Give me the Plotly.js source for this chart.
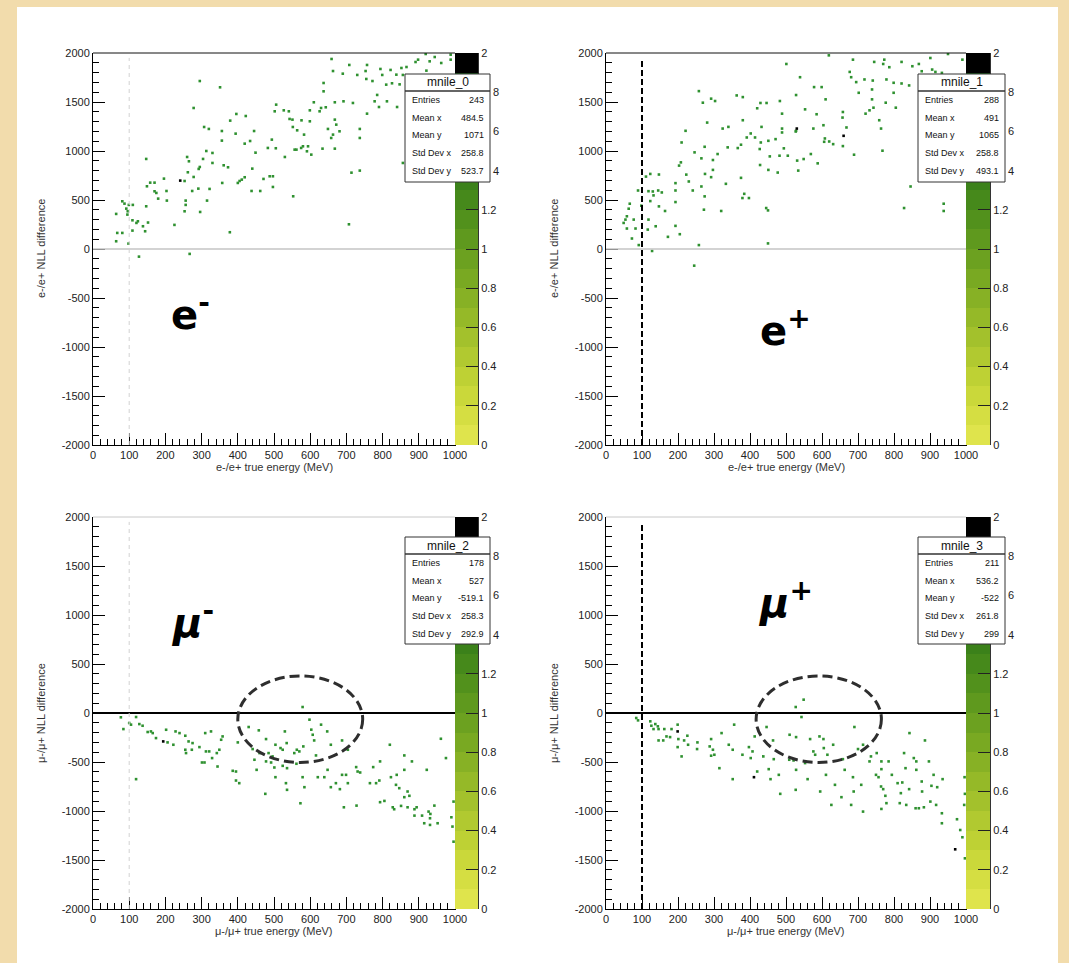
<!DOCTYPE html>
<html><head><meta charset="utf-8">
<script src="https://cdn.plot.ly/plotly-3.0.1.min.js"></script>
<style>html,body{margin:0;padding:0;background:#f2dcac;}#chart{width:1069px;height:963px;}</style>
</head><body><div id="chart"></div>
<script>
// ---------------- data ----------------
const eMinusX = [659,708,757,794,690,663,730,753,755,772,799,822,838,852,866,856,810,826,847,891,898,919,930,944,962,988,988,921,637,637,785,778,812,790,840,867,757,856,295,351,278,379,396,422,307,320,356,394,445,494,356,434,419,483,505,449,530,506,527,541,543,551,502,552,576,599,610,630,643,626,668,692,718,668,672,649,663,681,737,737,658,599,564,583,594,580,562,591,603,575,634,668,313,330,260,265,304,295,292,330,361,373,278,262,253,274,291,322,357,400,405,411,419,440,471,488,497,462,497,438,553,557,714,737,147,149,158,170,170,175,180,203,204,196,225,147,256,256,253,296,315,378,707,81,87,92,95,99,110,96,109,109,120,124,138,144,152,64,67,81,98,64,127,267];
const eMinusY = [1939,1878,1878,1837,1789,1816,1776,1816,1735,1714,1776,1827,1779,1847,1857,1776,1677,1691,1680,1908,1932,1990,1915,1959,1898,1983,1932,1820,1694,1609,1572,1507,1507,1449,1449,1381,1381,878,1714,1650,1439,1310,1378,1357,1245,1225,1204,1177,1204,1116,1106,1102,1075,1031,1028,983,939,1473,1415,1405,1327,1320,1405,1245,1313,1415,1497,1439,1446,1405,1497,1507,1490,1320,1269,1225,1167,1201,1225,1133,1133,1303,1211,1167,1048,1048,1014,997,963,1031,1024,1024,1000,980,939,895,919,837,817,878,854,834,735,783,694,592,616,613,674,674,694,708,732,820,715,742,742,592,633,592,538,1014,779,800,919,640,677,677,589,572,514,592,494,718,246,436,494,450,385,378,494,171,252,487,463,412,351,450,450,385,293,188,266,283,232,181,270,358,164,164,55,79,-78,-50];
const eMinusX2 = [241];
const eMinusY2 = [698];

const ePlusX = [619,686,745,773,770,787,821,851,869,901,950,990,906,915,877,501,677,681,718,695,741,779,799,821,842,702,739,799,777,739,743,732,721,759,764,805,539,528,578,599,610,429,446,483,420,489,553,585,658,657,668,604,576,528,489,489,432,402,391,414,375,366,451,471,430,427,455,482,505,494,527,608,606,620,631,658,689,768,531,549,569,588,534,428,451,477,258,269,292,303,281,221,210,246,265,274,275,297,310,338,324,340,380,375,363,380,297,292,333,265,274,272,320,384,379,397,445,450,450,208,203,223,230,241,193,193,193,193,205,172,164,145,147,147,123,111,118,130,155,132,123,118,116,138,98,89,66,63,54,49,58,77,82,72,58,91,128,258,828,846,938,938,933,245];
const ePlusY = [1976,1932,1909,1932,1888,1855,1909,1865,1888,1949,1990,1932,1831,1807,1814,1888,1807,1753,1730,1703,1719,1730,1696,1689,1669,1594,1628,1594,1493,1527,1442,1415,1381,1314,1229,1442,1753,1571,1652,1652,1527,1490,1490,1510,1436,1381,1425,1375,1398,1341,1240,1263,1229,1206,1229,1189,1246,1179,1138,1138,1064,1030,1104,1121,1087,1020,945,952,952,1027,1199,1128,1094,1097,1070,1050,962,1003,902,918,969,874,800,857,807,780,1611,1493,1534,1510,1290,1206,1087,986,925,1043,766,908,969,1037,1229,1246,1314,726,1567,1550,807,733,665,638,537,401,388,563,520,520,418,394,57,884,851,759,689,597,672,597,479,236,151,124,388,597,435,760,766,739,590,587,577,547,489,300,198,232,442,597,462,411,300,266,209,300,209,107,334,40,-20,40,418,638,462,388,1797,-170];
const ePlusX2 = [530,660];
const ePlusY2 = [1229,1155];

const muMinusX = [77,84,119,100,105,128,137,151,160,165,174,202,206,222,228,239,255,264,275,255,273,257,294,310,326,312,321,329,342,349,344,354,358,301,308,119,386,395,395,404,400,430,458,441,446,452,460,478,478,485,492,496,501,504,504,518,524,530,535,524,536,533,536,476,556,563,570,581,562,579,598,603,607,611,630,647,657,688,616,579,584,573,621,639,648,657,671,682,688,704,699,704,727,731,738,693,728,765,782,791,774,793,820,823,839,837,846,860,860,860,869,874,881,793,805,828,832,851,869,888,894,888,909,922,927,932,943,915,931,931,952,961,975,993,990,996,996];
const muMinusY = [-44,-164,-41,-102,-119,-113,-130,-194,-188,-205,-256,-171,-300,-324,-188,-205,-232,-290,-307,-375,-375,-409,-348,-205,-188,-392,-392,-460,-409,-375,-546,-273,-239,-505,-505,-675,-590,-597,-689,-716,-300,-143,-177,-368,-477,-580,-409,-266,-494,-409,-505,-443,-556,-655,-324,-358,-375,-188,-307,-539,-563,-716,-784,-825,-409,-375,-392,-341,-518,61,-68,-170,-222,-280,-119,-188,-324,-280,-433,-655,-757,-921,-655,-655,-580,-757,-716,-777,-631,-375,-631,-716,-552,-597,-607,-962,-945,-716,-716,-689,-552,-494,-324,-655,-631,-733,-767,-433,-580,-859,-801,-845,-494,-910,-897,-962,-982,-948,-962,-982,-962,-1047,-1047,-580,-1006,-1030,-945,-1125,-1074,-1142,-1125,-263,-460,-1159,-1064,-904,-1313];
const muMinusX2 = [194];
const muMinusY2 = [-290];

const muPlusX = [84,89,123,126,132,137,144,146,162,168,178,182,146,159,199,201,199,210,217,226,228,253,254,288,292,292,297,301,315,321,341,352,356,352,379,397,402,407,413,420,437,446,452,457,464,466,480,484,510,509,521,527,528,528,527,543,549,553,560,567,576,581,593,595,604,605,611,615,631,626,636,654,658,663,681,686,690,688,700,709,714,714,732,736,752,750,757,765,765,764,765,770,776,779,785,794,810,816,819,823,828,832,834,842,843,855,862,862,860,869,877,878,883,886,897,901,904,910,917,920,933,933,935,975,984,990,995,997,996,997];
const muPlusY = [-51,-75,-85,-130,-164,-113,-136,-164,-164,-239,-246,-164,-280,-280,-119,-266,-348,-443,-280,-232,-324,-368,-300,-341,-266,-436,-375,-426,-563,-205,-324,-375,-119,-675,-426,-348,-460,-392,-239,-597,-443,-143,-573,-675,-280,-471,-631,-825,-222,-477,-484,61,-246,-580,-784,-41,136,-511,-675,-266,-392,-426,-239,-801,-266,-358,-631,-426,-324,-938,-733,-859,-471,-580,-938,-655,-143,-801,-368,-733,-324,-1006,-494,-443,-409,-631,-655,-494,-573,-750,-979,-777,-845,-920,-494,-631,-716,-920,-818,-709,-409,-563,-938,-777,-205,-460,-494,-580,-972,-972,-699,-801,-962,-280,-494,-904,-743,-631,-938,-757,-1023,-1125,-675,-1084,-1194,-1268,-938,-825,-655,-1483];
const muPlusX2 = [199,411,970];
const muPlusY2 = [-188,-655,-1391];

const histNames = ['mnile_0','mnile_1','mnile_2','mnile_3'];
const statLabels = ['Entries','Mean x','Mean y','Std Dev x','Std Dev y'];
const statsE0 = ['243','484.5','1071','258.8','523.7'];
const statsE1 = ['288','491','1065','258.8','493.1'];
const statsM2 = ['178','527','-519.1','258.3','292.9'];
const statsM3 = ['211','536.2','-522','261.8','299'];

const xTitles = ['e-/e+ true energy (MeV)','e-/e+ true energy (MeV)','\u03bc-/\u03bc+ true energy (MeV)','\u03bc-/\u03bc+ true energy (MeV)'];
const yTitles = ['e-/e+ NLL difference','e-/e+ NLL difference','\u03bc-/\u03bc+ NLL difference','\u03bc-/\u03bc+ NLL difference'];
const particleLabels = ['<b>e<sup>-</sup></b>','<b>e<sup>+</sup></b>','<b><i>\u03bc</i><sup>-</sup></b>','<b><i>\u03bc</i><sup>+</sup></b>'];

const yTickVals = [-2000,-1500,-1000,-500,0,500,1000,1500,2000];
const yTickText = ['-2000','-1500','-1000','-500','0','500','1000','1500','2000'];
const zTickVals = [0,0.2,0.4,0.6,0.8,1,1.2,2];
const zTickText = ['0','0.2','0.4','0.6','0.8','1','1.2','2'];
const zCutTickVals = [1.4,1.6,1.8];      // labels partly hidden by the stats box
const zCutTickText = ['4','6','8'];
const energyCut = 100;
const ellipseX = [[400,745],[417,765]];
const ellipseY = [-505,378];

const paletteColors = ['#dfe44c','#d5de42','#cad83a','#bed134','#b1c930','#a3c12c','#95b928','#87b125','#79a922','#6ca120','#5f991e','#52911c','#46891b','#3b811a','#317918','#287116','#206814','#185f12','#115510','#000000'];
const paletteLevels = [0.05,0.15,0.25,0.35,0.45,0.55,0.65,0.75,0.85,0.95,1.05,1.15,1.25,1.35,1.45,1.55,1.65,1.75,1.85,1.95];

// ---------------- layout helpers ----------------
const W = 1069, H = 963;
const fx = p => p / W, fy = p => 1 - p / H;
const FONT = 'Liberation Sans, Arial, sans-serif';

const panels = [
  {xs:eMinusX, ys:eMinusY, xs2:eMinusX2, ys2:eMinusY2, stats:statsE0, px:[93,455], py:[53,445], cb:[455,478], box:[405,490,74,182], lab:[190,312], col:0, row:0, ell:null},
  {xs:ePlusX, ys:ePlusY, xs2:ePlusX2, ys2:ePlusY2, stats:statsE1, px:[606,966], py:[53,445], cb:[966,990], box:[918,1005,74,182], lab:[785,328], col:1, row:0, ell:null},
  {xs:muMinusX, ys:muMinusY, xs2:muMinusX2, ys2:muMinusY2, stats:statsM2, px:[93,455], py:[517,909], cb:[455,478], box:[405,490,537,644], lab:[192,620], col:0, row:1, ell:0},
  {xs:muPlusX, ys:muPlusY, xs2:muPlusX2, ys2:muPlusY2, stats:statsM3, px:[606,966], py:[517,909], cb:[966,990], box:[918,1005,537,644], lab:[785,600], col:1, row:1, ell:1}
];

const stepScale = [];
paletteColors.forEach((c, i) => { stepScale.push([i / 20, c]); stepScale.push([(i + 1) / 20, c]); });

const traces = [];
const layout = {
  width: W, height: H, margin: {l:0, r:0, t:0, b:0},
  paper_bgcolor: '#f2dcac', plot_bgcolor: '#ffffff', showlegend: false,
  font: {family: FONT, size: 11, color: '#222'},
  shapes: [
    {type:'rect', xref:'paper', yref:'paper', x0:fx(17), x1:fx(1058), y0:0, y1:fy(7), fillcolor:'#ffffff', line:{width:0}, layer:'below'}
  ],
  annotations: []
};

panels.forEach((p, i) => {
  const n = i + 1, m = i + 5;
  const xa = 'x' + (n === 1 ? '' : n), ya = 'y' + (n === 1 ? '' : n);
  const xk = 'xaxis' + (n === 1 ? '' : n), yk = 'yaxis' + (n === 1 ? '' : n);
  const xs = p.xs.concat(p.xs2), ys = p.ys.concat(p.ys2);
  const counts = p.xs.map(() => 1).concat(p.xs2.map(() => 2));
  traces.push({
    type:'scatter', mode:'markers', x: xs, y: ys, xaxis: xa, yaxis: ya, hoverinfo:'skip',
    marker:{symbol:'square', size:2.6, color: counts, cmin:0, cmax:2,
      colorscale:[[0,'#7fbf5f'],[0.5,'#2f9130'],[1,'#000000']], showscale:false, line:{width:0}}
  });
  layout[xk] = {domain:[fx(p.px[0]), fx(p.px[1])], range:[0,1000], anchor: ya,
    showline:true, linecolor:'#000', linewidth:1, ticks:'inside', ticklen:12, tickcolor:'#000', dtick:100, tick0:0,
    minor:{dtick:20, ticks:'inside', ticklen:6, tickcolor:'#000'},
    showgrid:false, zeroline:false, tickfont:{family:FONT, size:11, color:'#222'}, fixedrange:true};
  layout[yk] = {domain:[fy(p.py[1]), fy(p.py[0])], range:[-2000,2000], anchor: xa,
    showline:true, linecolor:'#000', linewidth:1, mirror:true, ticks:'inside', ticklen:12, tickcolor:'#000',
    tickmode:'array', tickvals:yTickVals, ticktext:yTickText,
    minor:{dtick:100, tick0:0, ticks:'inside', ticklen:6, tickcolor:'#000'},
    showgrid:false, zeroline:false, tickfont:{family:FONT, size:11, color:'#222'}, fixedrange:true};

  // palette (z axis) drawn as a one-column heatmap
  const xc = 'x' + m, yc = 'y' + m;
  traces.push({type:'heatmap', x:[0], y: paletteLevels, z: paletteLevels.map(v => [v]), zmin:0, zmax:2,
    colorscale: stepScale, showscale:false, xaxis: xc, yaxis: yc, hoverinfo:'skip'});
  layout['xaxis' + m] = {domain:[fx(p.cb[0]), fx(p.cb[1])], range:[-0.5,0.5], anchor: yc, visible:false, fixedrange:true};
  layout['yaxis' + m] = {domain:[fy(p.py[1]), fy(p.py[0])], range:[0,2], anchor: xc, side:'right',
    showline:true, linecolor:'#333', linewidth:1, ticks:'inside', ticklen:12, tickcolor:'#222',
    tickmode:'array', tickvals:zTickVals, ticktext:zTickText,
    showgrid:false, zeroline:false, tickfont:{family:FONT, size:11, color:'#222'}, fixedrange:true};

  // reference lines
  layout.shapes.push({type:'line', xref:xa, yref:ya, x0:0, x1:1000, y0:0, y1:0,
    line:{color: p.row === 0 ? '#c4c4c4' : '#000', width: p.row === 0 ? 1.5 : 2}, layer:'above'});
  layout.shapes.push({type:'line', xref:xa, yref:ya, x0:energyCut, x1:energyCut, y0:-2000, y1:1950,
    line: p.col === 0 ? {color:'#d2d2d2', width:1, dash:'4px,4px'} : {color:'#000', width:2, dash:'6px,3px'}, layer:'above'});
  if (p.ell !== null) {
    layout.shapes.push({type:'circle', xref:xa, yref:ya, x0:ellipseX[p.ell][0], x1:ellipseX[p.ell][1], y0:ellipseY[0], y1:ellipseY[1],
      line:{color:'#2e2e2e', width:3, dash:'10px,5px'}, layer:'above'});
  }
  // top frame line
  layout.shapes.push({type:'line', xref:'paper', yref:'paper', x0:fx(p.px[0]), x1:fx(p.px[1]), y0:fy(p.py[0]), y1:fy(p.py[0]),
    line:{color: p.row === 0 ? '#111' : '#c8c8c8', width:1}, layer:'above'});

  // stats box
  const b = p.box;
  layout.shapes.push({type:'rect', xref:'paper', yref:'paper', x0:fx(b[0]), x1:fx(b[1]), y0:fy(b[3]), y1:fy(b[2]),
    fillcolor:'#ffffff', line:{color:'#333', width:1}, layer:'above'});
  layout.shapes.push({type:'line', xref:'paper', yref:'paper', x0:fx(b[0]), x1:fx(b[1]), y0:fy(b[2] + 17), y1:fy(b[2] + 17),
    line:{color:'#333', width:1.5}, layer:'above'});
  layout.annotations.push({xref:'paper', yref:'paper', x:fx((b[0] + b[1]) / 2), y:fy(b[2] + 8.5), text: histNames[i],
    showarrow:false, xanchor:'center', yanchor:'middle', font:{family:FONT, size:12, color:'#111'}});
  const rowY = [26, 43.5, 61, 79, 96.5];
  statLabels.forEach((lab, k) => {
    layout.annotations.push({xref:'paper', yref:'paper', x:fx(b[0] + 5), y:fy(b[2] + rowY[k]), text: lab,
      showarrow:false, xanchor:'left', yanchor:'middle', font:{family:FONT, size:9, color:'#111'}});
    layout.annotations.push({xref:'paper', yref:'paper', x:fx(b[1] - 4), y:fy(b[2] + rowY[k]), text: p.stats[k],
      showarrow:false, xanchor:'right', yanchor:'middle', font:{family:FONT, size:9, color:'#111'}});
  });
  // visible remains of the palette labels that the stats box covers
  zCutTickVals.forEach((v, k) => {
    layout.annotations.push({xref:'paper', yref:yc, x:fx(b[1] + 0.5), y:v, text: zCutTickText[k],
      showarrow:false, xanchor:'left', yanchor:'middle', font:{family:FONT, size:11, color:'#222'}});
  });

  // axis titles
  layout.annotations.push({xref:'paper', yref:'paper', x:fx((p.px[0] + p.px[1]) / 2), y:fy(p.py[1] + 22), text: xTitles[i],
    showarrow:false, xanchor:'center', yanchor:'middle', font:{family:FONT, size:11, color:'#333'}});
  layout.annotations.push({xref:'paper', yref:'paper', x:fx(p.px[0] - 52), y:fy((p.py[0] + p.py[1]) / 2), text: yTitles[i],
    showarrow:false, xanchor:'center', yanchor:'middle', textangle:-90, font:{family:FONT, size:11, color:'#333'}});

  // particle label
  layout.annotations.push({xref:'paper', yref:'paper', x:fx(p.lab[0]), y:fy(p.lab[1]), text: particleLabels[i],
    showarrow:false, xanchor:'center', yanchor:'middle', font:{family:'DejaVu Sans, sans-serif', size:40, color:'#000'}});
});

Plotly.newPlot('chart', traces, layout, {staticPlot:true, displayModeBar:false});
</script>
</body></html>
